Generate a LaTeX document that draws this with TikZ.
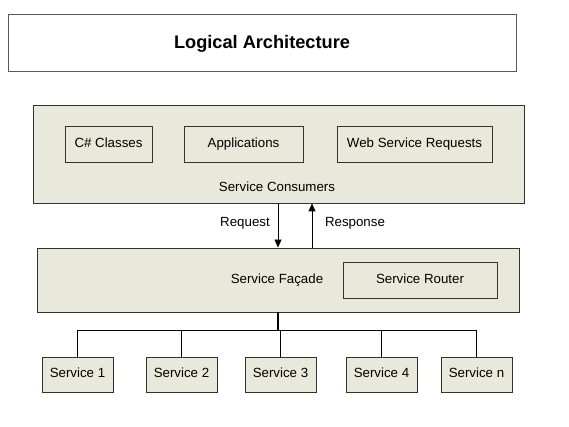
\documentclass[tikz,border=0pt]{standalone}
\usepackage{fontspec}
\setmainfont{Liberation Sans}
\usetikzlibrary{arrows.meta}
\definecolor{boxfill}{RGB}{232,232,219}
\definecolor{edge}{RGB}{50,50,50}
\tikzset{
  box/.style={draw=edge, line width=0.9pt, fill=boxfill, inner sep=0pt, text height=9.6pt, text depth=3.4pt, font=\fontsize{13.3}{15}\selectfont},
  lbl/.style={inner sep=0pt, text height=9.6pt, text depth=3.4pt, font=\fontsize{13.3}{15}\selectfont},
  conn/.style={draw=black, line width=0.9pt},
  arr/.style={conn, -{Triangle[length=8pt,width=7pt]}},
}
\begin{document}
\begin{tikzpicture}[x=1pt,y=-1pt]
\useasboundingbox (0,0) rectangle (569,427);
% title
\node[draw=gray!70!black, line width=1pt, minimum width=508pt, minimum height=57pt, inner sep=0pt,
      font=\fontsize{18.2}{20}\selectfont\bfseries] (title) at (262,43.5) {Logical Architecture};
% consumers
\node[box, minimum width=491pt, minimum height=98pt] (cons) at (278.5,154) {};
\node[box, minimum width=87pt, minimum height=36pt] (cs) at (108.5,144) {C\# Classes};
\node[box, minimum width=119pt, minimum height=36pt] (apps) at (243.5,144) {Applications};
\node[box, minimum width=155pt, minimum height=36pt] (wsr) at (414.5,144) {Web Service Requests};
\node[lbl] (conslbl) at (277,188) {Service Consumers};
% facade
\node[box, minimum width=482pt, minimum height=64pt] (fac) at (278,280) {};
\node[lbl] (faclbl) at (277,280) {Service Façade};
\node[box, minimum width=154pt, minimum height=36pt] (router) at (420,280) {Service Router};
% request / response
\coordinate (rq) at (278,0);
\coordinate (rs) at (312,0);
\draw[arr] (cons.south -| rq) -- (fac.north -| rq);
\draw[arr] (fac.north -| rs) -- (cons.south -| rs);
\node[lbl] (reqlbl) at (245,223) {Request};
\node[lbl] (reslbl) at (355,223) {Response};
% services
\node[box, minimum width=71pt, minimum height=35pt] (s1) at (77.5,374.5) {Service 1};
\node[box, minimum width=71pt, minimum height=35pt] (s2) at (181.5,374.5) {Service 2};
\node[box, minimum width=71pt, minimum height=35pt] (s3) at (280.5,374.5) {Service 3};
\node[box, minimum width=71pt, minimum height=35pt] (s4) at (381.5,374.5) {Service 4};
\node[box, minimum width=71pt, minimum height=35pt] (sn) at (476.5,374.5) {Service n};
\coordinate (bus) at (278,330);
\draw[conn, line width=2pt] (fac.south -| bus) -- (bus);
\draw[conn] (s1.north) |- (sn.north |- bus) -- (sn.north);
\draw[conn] (s2.north) -- (s2.north |- bus);
\draw[conn] (s3.north) -- (s3.north |- bus);
\draw[conn] (s4.north) -- (s4.north |- bus);
\end{tikzpicture}
\end{document}
